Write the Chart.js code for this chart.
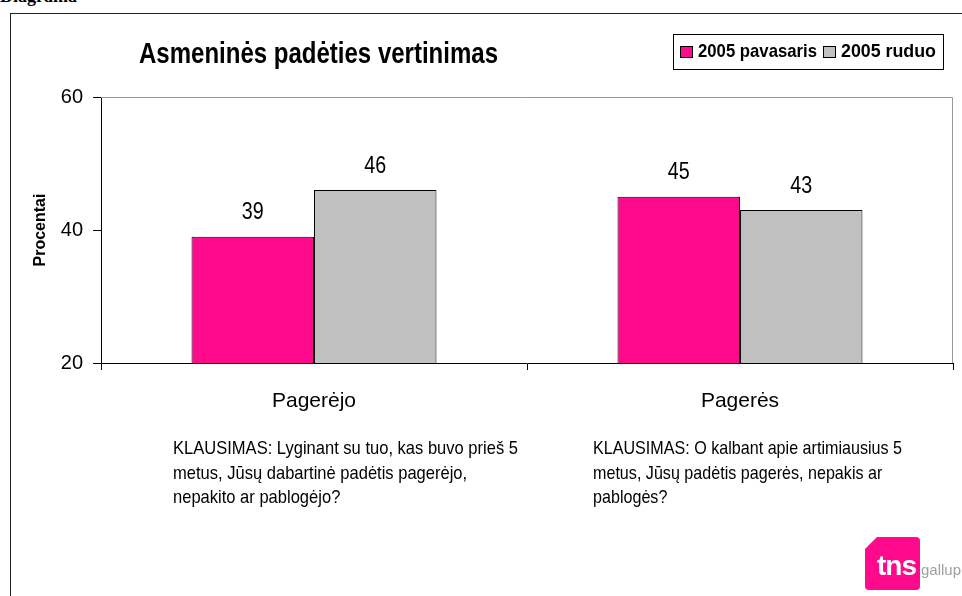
<!DOCTYPE html>
<html>
<head>
<meta charset="utf-8">
<script src="https://cdn.jsdelivr.net/npm/chart.js@4/dist/chart.umd.min.js"></script>
<style>
  body { margin: 0; background: #fff; }
  #page { position: relative; width: 962px; height: 596px; overflow: hidden; background: #fff;
          font-family: "Liberation Sans", Arial, sans-serif; color: #000; }
  #frame { position: absolute; left: 10px; top: 13px; width: 1000px; height: 700px; border: 1.5px solid #222; }
  #chart { position: absolute; left: 0; top: 0; }
  #caption { position: absolute; left: 0; top: -14px; font: bold 18px "Liberation Serif", serif; }
  .fit { position: absolute; white-space: nowrap; transform-origin: 0 0; display: inline-block; }
  #title { left: 139px; top: 37px; font-weight: bold; font-size: 29px; line-height: 32px; }
  #legend { position: absolute; left: 673px; top: 34px; width: 269px; height: 34px; border: 1px solid #000; background: #fff; }
  #legend .sw { position: absolute; top: 11px; width: 11px; height: 10px; border: 1px solid #000; }
  #legend .fit { top: 5px; font-weight: bold; font-size: 19px; line-height: 22px; }
  .question { font-size: 19px; line-height: 24.5px; top: 436px; }
  #logo { position: absolute; left: 865px; top: 537px; width: 55px; height: 53px; background: #ff0a8c;
          clip-path: polygon(12px 0, 100% 0, 100% 100%, 0 100%, 0 12px); border-radius: 4px; }
  #tns { position: absolute; left: 877px; top: 550px; color: #fff; font: bold 28px "Liberation Sans", sans-serif; letter-spacing: -1px; }
  #gallup { position: absolute; left: 921px; top: 561px; color: #a0a0a0; font: 15px "Liberation Sans", sans-serif; }
</style>
</head>
<body>
<div id="page">
  <div id="caption">Diagrama</div>
  <div id="frame"></div>
  <canvas id="chart" width="962" height="596"></canvas>
  <div id="title" class="fit" data-w="359"></div>
  <div id="legend"></div>
  <div class="fit question" style="left:173px" data-w="345">KLAUSIMAS: Lyginant su tuo, kas buvo prieš 5<br>metus, Jūsų dabartinė padėtis pagerėjo,<br>nepakito ar pablogėjo?</div>
  <div class="fit question" style="left:593px" data-w="309">KLAUSIMAS: O kalbant apie artimiausius 5<br>metus, Jūsų padėtis pagerės, nepakis ar<br>pablogės?</div>
  <div id="logo"></div>
  <div id="tns">tns</div>
  <div id="gallup">gallup</div>
</div>
<script>
// Chart data
const chartTitle = 'Asmeninės padėties vertinimas';
const categories = ['Pagerėjo', 'Pagerės'];
const seriesNames = ['2005 pavasaris', '2005 ruduo'];
const springValues = [39, 45];
const autumnValues = [46, 43];
const yTicks = [20, 40, 60];
const seriesColors = ['#ff0a8c', '#c0c0c0'];

const FONT = '"Liberation Sans", Arial, sans-serif';

document.getElementById('title').textContent = chartTitle;

// legend boxes (positions in px inside the legend frame)
const legendX = [6, 149];
const legendW = [119, 95];
document.getElementById('legend').innerHTML = seriesNames.map((name, i) =>
    `<span class="sw" style="left:${legendX[i]}px;background:${seriesColors[i]}"></span>` +
    `<span class="fit" style="left:${legendX[i] + 18}px" data-w="${legendW[i]}">${name}</span>`
).join('');

// squeeze html text to the narrow widths of the original
document.querySelectorAll('.fit').forEach(el => {
    const w = el.getBoundingClientRect().width;
    const target = +el.dataset.w;
    if (w && target) el.style.transform = `scaleX(${target / w})`;
});

// grey border on top and right of the plot area
const plotBorder = {
    id: 'plotBorder',
    afterDraw(chart) {
        const { ctx, chartArea: a } = chart;
        ctx.save();
        ctx.strokeStyle = '#999';
        ctx.lineWidth = 1;
        ctx.beginPath();
        ctx.moveTo(a.left, a.top + 0.5);
        ctx.lineTo(a.right - 0.5, a.top + 0.5);
        ctx.lineTo(a.right - 0.5, a.bottom);
        ctx.stroke();
        ctx.restore();
    }
};

// value labels above the bars, drawn narrow like the original
const valueLabels = {
    id: 'valueLabels',
    afterDatasetsDraw(chart) {
        const ctx = chart.ctx;
        chart.data.datasets.forEach((ds, i) => {
            chart.getDatasetMeta(i).data.forEach((bar, j) => {
                ctx.save();
                ctx.font = '24px ' + FONT;
                ctx.fillStyle = '#000';
                ctx.textAlign = 'center';
                ctx.textBaseline = 'middle';
                ctx.translate(bar.x, bar.y - 24);
                ctx.scale(0.82, 1);
                ctx.fillText(ds.data[j], 0, 0);
                ctx.restore();
            });
        });
    }
};

new Chart(document.getElementById('chart'), {
    type: 'bar',
    data: {
        labels: categories,
        datasets: [{
            label: seriesNames[0],
            data: springValues,
            backgroundColor: seriesColors[0],
            borderColor: '#000',
            borderWidth: 1
        }, {
            label: seriesNames[1],
            data: autumnValues,
            backgroundColor: seriesColors[1],
            borderColor: '#000',
            borderWidth: 1
        }]
    },
    options: {
        responsive: false,
        animation: false,
        devicePixelRatio: 1,
        layout: { padding: { left: 0, top: 97, right: 9, bottom: 173 } },
        categoryPercentage: 0.575,
        barPercentage: 1,
        plugins: {
            legend: { display: false },
            tooltip: { enabled: false }
        },
        scales: {
            x: {
                afterFit: s => { s.height = 60; },
                grid: { offset: true, drawOnChartArea: false, tickLength: 7, color: '#000' },
                border: { color: '#000' },
                ticks: { color: '#000', padding: 19, font: { family: FONT, size: 21 } }
            },
            y: {
                min: yTicks[0],
                max: yTicks[yTicks.length - 1],
                afterFit: s => { s.width = 101; },
                afterBuildTicks: s => { s.ticks = yTicks.map(v => ({ value: v })); },
                grid: { drawOnChartArea: false, tickLength: 8, color: '#000' },
                border: { color: '#000' },
                ticks: { color: '#000', padding: 10, font: { family: FONT, size: 20 } },
                title: {
                    display: true,
                    text: 'Procentai',
                    color: '#000',
                    font: { family: FONT, size: 16, weight: 'bold' },
                    padding: { top: 31, bottom: 0 }
                }
            }
        }
    },
    plugins: [plotBorder, valueLabels]
});
</script>
</body>
</html>
